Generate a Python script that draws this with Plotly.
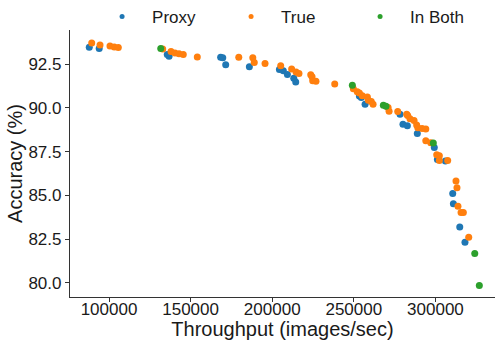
import plotly.graph_objects as go

proxy_x = [87900, 94000, 135700, 136800, 168400, 169700, 171500, 186000, 204400, 206800,
           209300, 213200, 214400, 253400, 254600, 256900, 278300, 280100, 282800, 288900,
           299300, 301200, 306100, 310600, 311000, 314900, 318100]
proxy_y = [93.47, 93.40, 93.05, 92.95, 92.90, 92.86, 92.46, 92.35, 92.20, 92.12,
           91.91, 91.69, 91.48, 90.68, 90.59, 90.21, 89.64, 89.07, 88.98, 88.54,
           87.74, 87.06, 86.97, 85.11, 84.53, 83.20, 82.33]

true_x = [89400, 94500, 100600, 103200, 105700, 132900, 138000, 140400, 142900, 145500,
          154100, 179500, 188100, 189000, 195600, 205200, 211900, 214600, 216400, 223600,
          224400, 224800, 226800, 238300, 249700, 252100, 253400, 255200, 258300, 258900,
          260700, 261800, 271000, 271600, 276900, 282400, 283000, 284400, 286900, 288500,
          289200, 291800, 294100, 294100, 297100, 300800, 302400, 302400, 307500, 312600,
          313200, 313800, 315700, 317100, 320400]
true_y = [93.71, 93.60, 93.54, 93.48, 93.45, 93.37, 93.22, 93.14, 93.09, 93.05,
          92.91, 92.90, 92.86, 92.60, 92.54, 92.41, 92.22, 92.05, 91.97, 91.89,
          91.78, 91.55, 91.52, 91.36, 91.10, 90.93, 90.85, 90.70, 90.62, 90.44,
          90.36, 90.21, 90.02, 89.81, 89.79, 89.64, 89.56, 89.38, 89.28, 89.03,
          88.86, 88.82, 88.79, 88.13, 88.01, 87.33, 87.27, 86.99, 87.00, 85.83,
          85.44, 84.38, 84.03, 84.03, 82.61]

both_x = [131700, 249100, 268100, 269700, 298700, 324100, 326900]
both_y = [93.39, 91.29, 90.15, 90.10, 88.00, 81.69, 79.85]

series_names = ["Proxy", "True", "In Both"]
series_colors = ["#1f77b4", "#ff7f0e", "#2ca02c"]
series_data = [(proxy_x, proxy_y), (true_x, true_y), (both_x, both_y)]

x_ticks = [100000, 150000, 200000, 250000, 300000]
y_ticks = [80.0, 82.5, 85.0, 87.5, 90.0, 92.5]

fig = go.Figure()
for name, color, (xs, ys) in zip(series_names, series_colors, series_data):
    fig.add_trace(go.Scatter(x=xs, y=ys, mode="markers", name=name, showlegend=False,
                             marker=dict(color=color, size=7, line=dict(width=0))))
for name, color in zip(series_names, series_colors):
    fig.add_trace(go.Scatter(x=[None], y=[None], mode="markers", name=name,
                             marker=dict(color=color, size=5, line=dict(width=0))))

font = "Liberation Sans, Arial, sans-serif"
fig.update_layout(
    width=495, height=340,
    margin=dict(l=70, r=0, t=30, b=43, autoexpand=False),
    plot_bgcolor="white", paper_bgcolor="white",
    font=dict(family=font, size=17, color="#1a1a1a"),
    legend=dict(orientation="h", xref="container", yref="container",
                x=0.186, xanchor="left", y=0.95, yanchor="middle",
                font=dict(size=17), entrywidth=64, itemwidth=50,
                bgcolor="rgba(0,0,0,0)"),
    xaxis=dict(range=[76100, 336500], tickvals=x_ticks, ticktext=[str(v) for v in x_ticks],
               showgrid=False, zeroline=False, showline=True, linecolor="#333333", linewidth=1.2,
               ticks="outside", ticklen=4, tickcolor="#333333", automargin=False,
               ticklabelstandoff=-8,
               title=dict(text="Throughput (images/sec)", standoff=11)),
    yaxis=dict(range=[79.2, 94.45], tickvals=y_ticks, ticktext=["%.1f" % v for v in y_ticks],
               showgrid=False, zeroline=False, showline=True, linecolor="#333333", linewidth=1.2,
               ticks="outside", ticklen=4, tickcolor="#333333", automargin=False,
               title=dict(text="Accuracy (%)", standoff=0)),
)
fig.write_html("out.html")
